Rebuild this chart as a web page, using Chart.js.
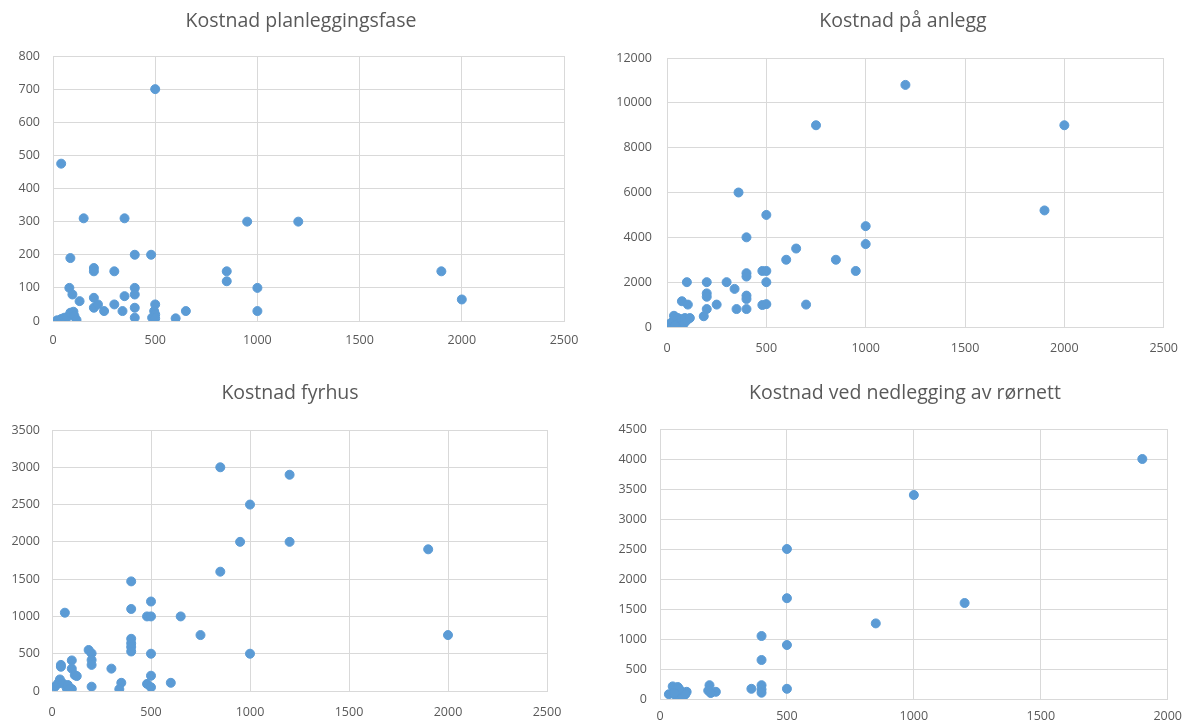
<!DOCTYPE html>
<html>
<head>
<meta charset="utf-8">
<script src="https://cdn.jsdelivr.net/npm/chart.js@4/dist/chart.umd.min.js"></script>
<style>
  body { margin: 0; background: #fff; }
  .box { position: absolute; width: 596px; height: 362px; }
</style>
</head>
<body>
<div class="box" style="left:0;top:0"><canvas id="c1"></canvas></div>
<div class="box" style="left:596px;top:0"><canvas id="c2"></canvas></div>
<div class="box" style="left:0;top:362px"><canvas id="c3"></canvas></div>
<div class="box" style="left:596px;top:362px"><canvas id="c4"></canvas></div>
<script>
//---------------DATA-------------
// Kostnad planleggingsfase
let planX = [500, 40, 150, 350, 85, 400, 480, 200, 200, 300, 80, 95, 130, 200, 200, 220, 250, 300, 340, 350, 400, 400, 400, 400, 500, 495, 500, 485, 500, 600, 650, 850, 850, 950, 1000, 1000, 1200, 1900, 2000, 20, 40, 55, 70, 85, 100, 105, 115];
let planY = [700, 475, 310, 310, 190, 200, 200, 160, 150, 150, 100, 80, 60, 70, 40, 50, 30, 50, 30, 75, 100, 80, 40, 10, 50, 30, 20, 10, 8, 8, 30, 150, 120, 300, 100, 30, 300, 150, 65, 2, 6, 10, 12, 25, 28, 15, 3];

// Kostnad på anlegg
let anleggX = [750, 360, 500, 400, 1000, 1000, 650, 600, 850, 950, 480, 500, 400, 400, 300, 100, 200, 200, 200, 340, 400, 400, 500, 250, 200, 185, 350, 400, 480, 500, 700, 75, 105, 1200, 2000, 1900, 15, 30, 35, 45, 55, 60, 65, 75, 85, 90, 100, 115, 40];
let anleggY = [9000, 6000, 5000, 4000, 4500, 3700, 3500, 3000, 3000, 2500, 2500, 2500, 2400, 2250, 2000, 2000, 2000, 1500, 1350, 1700, 1400, 1250, 2000, 1000, 800, 480, 800, 800, 980, 1020, 1000, 1150, 1000, 10800, 9000, 5200, 150, 250, 500, 100, 400, 300, 200, 350, 150, 400, 300, 400, 50];

// Kostnad fyrhus
let fyrX = [850, 1200, 1000, 950, 1200, 850, 400, 500, 400, 65, 480, 500, 650, 750, 1000, 500, 400, 400, 400, 400, 185, 200, 200, 200, 300, 350, 340, 500, 480, 500, 600, 200, 100, 100, 115, 125, 45, 45, 1900, 2000, 15, 30, 40, 55, 75, 80, 100, 90];
let fyrY = [3000, 2900, 2500, 2000, 2000, 1600, 1470, 1200, 1100, 1050, 1000, 1000, 1000, 750, 500, 500, 700, 640, 590, 530, 550, 505, 415, 350, 300, 110, 25, 205, 95, 50, 110, 58, 410, 300, 215, 200, 350, 325, 1900, 750, 58, 100, 155, 100, 35, 80, 27, 30];

// Kostnad ved nedlegging av rørnett
let nedX = [500, 500, 500, 500, 400, 400, 400, 400, 400, 360, 850, 1000, 1200, 1900, 195, 190, 220, 200, 35, 50, 70, 60, 65, 85, 90, 105, 100, 75, 55];
let nedY = [2500, 1680, 900, 170, 1050, 650, 230, 160, 105, 170, 1260, 3400, 1600, 4000, 230, 140, 120, 100, 80, 210, 200, 150, 40, 120, 40, 120, 80, 170, 100];

//---------------CHARTING-------------
const blue = "#5b9bd5", grid = "#d9d9d9", txt = "#595959";
const font = "'Open Sans', 'Noto Sans', sans-serif";

function pts(xs, ys) {
  return xs.map((x, i) => ({ x: x, y: ys[i] }));
}

// cfg holds the box sizes so the plot areas and titles land where the picture has them
function makeChart(id, title, xs, ys, xMax, yMax, yStep, cfg) {
  new Chart(document.getElementById(id), {
    type: "scatter",
    data: {
      datasets: [{
        data: pts(xs, ys),
        backgroundColor: blue,
        borderColor: blue,
        pointRadius: 4.5,
        pointHoverRadius: 4.5
      }]
    },
    options: {
      responsive: true,
      maintainAspectRatio: false,
      animation: false,
      layout: { padding: { left: 0, right: cfg.right, top: 0, bottom: 0 } },
      plugins: {
        legend: { display: false },
        tooltip: { enabled: false },
        title: {
          display: true,
          text: title,
          color: txt,
          font: { family: font, size: 19.5, weight: "normal" },
          padding: { top: cfg.tTop, bottom: cfg.tBottom }
        }
      },
      scales: {
        x: {
          type: "linear",
          min: 0, max: xMax,
          ticks: { stepSize: 500, color: txt, font: { family: font, size: 12.5 }, padding: cfg.xPad, maxRotation: 0, callback: (v) => v },
          grid: { color: grid, drawTicks: false },
          border: { color: grid },
          afterFit: (s) => { s.height = cfg.xH; }
        },
        y: {
          min: 0, max: yMax,
          ticks: { stepSize: yStep, color: txt, font: { family: font, size: 12.5 }, padding: cfg.yPad, callback: (v) => v },
          grid: { color: grid, drawTicks: false },
          border: { color: grid },
          afterFit: (s) => { s.width = cfg.yW; }
        }
      }
    },
    plugins: [{
      // the titles sit a bit right of the canvas centre in the picture
      id: "shiftTitle",
      afterLayout(chart) {
        chart.titleBlock.left += cfg.shift;
        chart.titleBlock.right += cfg.shift;
      }
    }]
  });
}

makeChart("c1", "Kostnad planleggingsfase", planX, planY, 2500, 800, 100,
  { right: 32, tTop: 10, tBottom: 22.6, xH: 41, xPad: 12, yW: 53, yPad: 13, shift: 19 });
makeChart("c2", "Kostnad på anlegg", anleggX, anleggY, 2500, 12000, 2000,
  { right: 24, tTop: 10, tBottom: 24.6, xH: 35, xPad: 14, yW: 71, yPad: 15, shift: 21 });
makeChart("c3", "Kostnad fyrhus", fyrX, fyrY, 2500, 3500, 500,
  { right: 49, tTop: 19.5, tBottom: 25.1, xH: 33, xPad: 14, yW: 52, yPad: 12, shift: 16.5 });
makeChart("c4", "Kostnad ved nedlegging av rørnett", nedX, nedY, 2000, 4500, 500,
  { right: 18, tTop: 20, tBottom: 23.6, xH: 25, xPad: 10, yW: 64, yPad: 13, shift: 20 });
</script>
</body>
</html>
